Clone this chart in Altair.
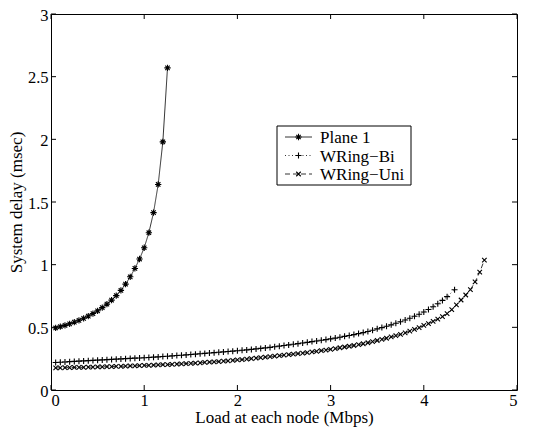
import altair as alt
import pandas as pd

# ---------------- data ----------------
x_ticks = [0, 1, 2, 3, 4, 5]
y_ticks = [0, 0.5, 1, 1.5, 2, 2.5, 3]
series = ["Plane 1", "WRing\u2212Bi", "WRing\u2212Uni"]

plane_x = [0.05, 0.10, 0.15, 0.20, 0.25, 0.30, 0.35, 0.40, 0.45, 0.50,
           0.55, 0.60, 0.65, 0.70, 0.75, 0.80, 0.85, 0.90, 0.95, 1.00,
           1.05, 1.10, 1.15, 1.20, 1.25]
plane_y = [0.495, 0.505, 0.516, 0.528, 0.541, 0.556, 0.572, 0.590, 0.610, 0.632,
           0.657, 0.685, 0.717, 0.753, 0.795, 0.845, 0.903, 0.970, 1.045, 1.135,
           1.255, 1.415, 1.640, 1.980, 2.570]

ring_x = [0.05, 0.10, 0.15, 0.20, 0.25, 0.30, 0.35, 0.40, 0.45, 0.50,
          0.55, 0.60, 0.65, 0.70, 0.75, 0.80, 0.85, 0.90, 0.95, 1.00,
          1.05, 1.10, 1.15, 1.20, 1.25, 1.30, 1.35, 1.40, 1.45, 1.50,
          1.55, 1.60, 1.65, 1.70, 1.75, 1.80, 1.85, 1.90, 1.95, 2.00,
          2.05, 2.10, 2.15, 2.20, 2.25, 2.30, 2.35, 2.40, 2.45, 2.50,
          2.55, 2.60, 2.65, 2.70, 2.75, 2.80, 2.85, 2.90, 2.95, 3.00,
          3.05, 3.10, 3.15, 3.20, 3.25, 3.30, 3.35, 3.40, 3.45, 3.50,
          3.55, 3.60, 3.65, 3.70, 3.75, 3.80, 3.85, 3.90, 3.95, 4.00,
          4.05, 4.10, 4.15, 4.20, 4.25, 4.30, 4.35, 4.40, 4.45, 4.50,
          4.55, 4.60, 4.65]

bi_x = ring_x[:85] + [4.33]
bi_y = [0.220, 0.222, 0.224, 0.226, 0.228, 0.230, 0.232, 0.234, 0.236, 0.238,
        0.240, 0.242, 0.244, 0.246, 0.248, 0.250, 0.252, 0.254, 0.255, 0.257,
        0.259, 0.262, 0.264, 0.267, 0.269, 0.272, 0.275, 0.277, 0.280, 0.283,
        0.286, 0.289, 0.292, 0.295, 0.298, 0.301, 0.304, 0.307, 0.310, 0.313,
        0.317, 0.320, 0.324, 0.328, 0.332, 0.336, 0.340, 0.345, 0.350, 0.355,
        0.360, 0.365, 0.370, 0.375, 0.380, 0.386, 0.391, 0.397, 0.402, 0.408,
        0.414, 0.421, 0.428, 0.435, 0.442, 0.450, 0.458, 0.467, 0.477, 0.488,
        0.498, 0.509, 0.520, 0.532, 0.545, 0.558, 0.573, 0.588, 0.604, 0.622,
        0.642, 0.664, 0.688, 0.715, 0.745, 0.800]

uni_x = ring_x
uni_y = [0.176, 0.177, 0.178, 0.179, 0.180, 0.180, 0.181, 0.182, 0.183, 0.184,
         0.185, 0.186, 0.187, 0.188, 0.189, 0.190, 0.192, 0.193, 0.194, 0.196,
         0.197, 0.199, 0.200, 0.202, 0.203, 0.205, 0.207, 0.209, 0.211, 0.213,
         0.215, 0.217, 0.220, 0.222, 0.225, 0.227, 0.230, 0.233, 0.237, 0.240,
         0.243, 0.247, 0.250, 0.254, 0.258, 0.262, 0.266, 0.270, 0.274, 0.278,
         0.282, 0.286, 0.290, 0.295, 0.299, 0.304, 0.309, 0.314, 0.319, 0.325,
         0.331, 0.337, 0.343, 0.349, 0.355, 0.362, 0.369, 0.377, 0.386, 0.395,
         0.404, 0.413, 0.423, 0.433, 0.444, 0.456, 0.469, 0.483, 0.498, 0.515,
         0.530, 0.547, 0.565, 0.585, 0.610, 0.642, 0.680, 0.718, 0.758, 0.800,
         0.862, 0.940, 1.037]

# ---------------- styling ----------------
W, H = 466, 376
FONT = "Liberation Serif"
ASTER = "M-1,0L1,0M0,-1L0,1M-0.7,-0.7L0.7,0.7M-0.7,0.7L0.7,-0.7"
PLUS = "M-1,0L1,0M0,-1L0,1"
XMARK = "M-0.75,-0.75L0.75,0.75M-0.75,0.75L0.75,-0.75"

styles = [
    dict(shape=ASTER, size=40, dash=[1, 0]),
    dict(shape=PLUS, size=36, dash=[1, 2.5]),
    dict(shape=XMARK, size=36, dash=[5, 3]),
]
data_sets = [(plane_x, plane_y), (bi_x, bi_y), (uni_x, uni_y)]

xscale = alt.Scale(domain=[0, 5], nice=False, zero=False)
yscale = alt.Scale(domain=[0, 3], nice=False, zero=False)

layers = []
for name, (xs, ys), st in zip(series, data_sets, styles):
    df = pd.DataFrame({"x": xs, "y": ys, "series": name})
    base = alt.Chart(df)
    layers.append(
        base.mark_line(color="black", strokeWidth=0.8, strokeDash=st["dash"]).encode(
            x=alt.X("x:Q", scale=xscale), y=alt.Y("y:Q", scale=yscale)
        )
    )
    layers.append(
        base.mark_point(shape=st["shape"], size=st["size"], filled=False,
                        stroke="black", strokeWidth=1.1, opacity=1).encode(
            x=alt.X("x:Q", scale=xscale), y=alt.Y("y:Q", scale=yscale)
        )
    )

axis_common = dict(grid=False, ticks=False, domain=False,
                   labelFont=FONT, labelFontSize=16.5, labelColor="black",
                   titleFont=FONT, titleFontSize=17, titleFontWeight="normal",
                   titleColor="black", format="~g")

# axes carrying labels (ticks drawn inward separately)
axes = alt.Chart(pd.DataFrame({"x": [0], "y": [0]})).mark_point(opacity=0).encode(
    x=alt.X("x:Q", scale=xscale,
            axis=alt.Axis(values=x_ticks, title="Load at each node (Mbps)",
                          labelPadding=2, titlePadding=1, **axis_common)),
    y=alt.Y("y:Q", scale=yscale,
            axis=alt.Axis(values=y_ticks, title="System delay (msec)",
                          labelPadding=3, titlePadding=2, labelOffset=1, **axis_common)),
)

xt = pd.DataFrame({"t": x_ticks})
yt = pd.DataFrame({"t": y_ticks})
TL = 5
tick_layers = [
    alt.Chart(xt).mark_rule(color="black", strokeWidth=1).encode(
        x=alt.X("t:Q", scale=xscale), y=alt.value(H), y2=alt.value(H - TL)),
    alt.Chart(xt).mark_rule(color="black", strokeWidth=1).encode(
        x=alt.X("t:Q", scale=xscale), y=alt.value(0), y2=alt.value(TL)),
    alt.Chart(yt).mark_rule(color="black", strokeWidth=1).encode(
        y=alt.Y("t:Q", scale=yscale), x=alt.value(0), x2=alt.value(TL)),
    alt.Chart(yt).mark_rule(color="black", strokeWidth=1).encode(
        y=alt.Y("t:Q", scale=yscale), x=alt.value(W), x2=alt.value(W - TL)),
]

# legend box
LX0, LX1, LY0, LY1 = 226, 360, 112, 171
one = pd.DataFrame({"a": [0]})
legend_layers = [
    alt.Chart(one).mark_rect(fill="white", stroke="black", strokeWidth=1).encode(
        x=alt.value(LX0), x2=alt.value(LX1), y=alt.value(LY0), y2=alt.value(LY1))
]
rows = [123, 141.5, 160]
for name, st, ry in zip(series, styles, rows):
    d = pd.DataFrame({"label": [name]})
    legend_layers.append(
        alt.Chart(d).mark_rule(color="black", strokeWidth=0.8, strokeDash=st["dash"]).encode(
            x=alt.value(234), x2=alt.value(261), y=alt.value(ry)))
    legend_layers.append(
        alt.Chart(d).mark_point(shape=st["shape"], size=st["size"], filled=False,
                                stroke="black", strokeWidth=1.1, opacity=1).encode(
            x=alt.value(247.5), y=alt.value(ry)))
    legend_layers.append(
        alt.Chart(d).mark_text(align="left", baseline="middle", font=FONT, fontSize=17,
                               color="black", dy=1).encode(
            x=alt.value(269), y=alt.value(ry), text="label:N"))

chart = alt.layer(axes, *tick_layers, *layers, *legend_layers).properties(
    width=W, height=H,
    background="white",
    autosize=alt.AutoSizeParams(type="none"),
    padding={"left": 43, "top": 6, "right": 9, "bottom": 40},
).configure_view(stroke="black", strokeWidth=1)

chart.save("out.html", embed_options={"renderer": "svg", "actions": False})
